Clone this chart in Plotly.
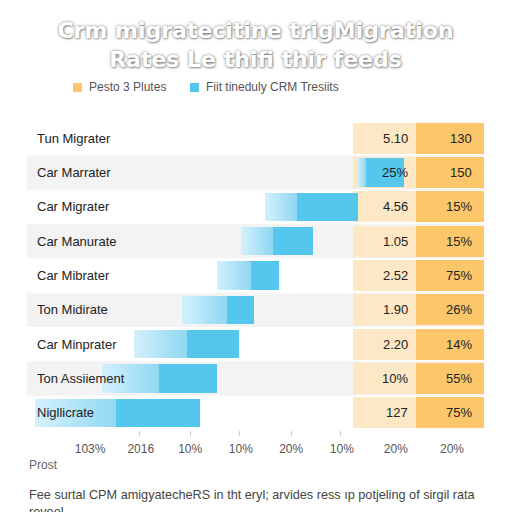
import plotly.graph_objects as go

# rows of the table, top to bottom
rows = ["Tun Migrater", "Car Marrater", "Car Migrater", "Car Manurate", "Car Mibrater",
        "Ton Midirate", "Car Minprater", "Ton Assiiement", "Nigllicrate"]
bar_start = [None, 72.4, 52.1, 47.0, 41.6, 34.1, 23.4, 16.4, 1.8]
bar_mid = [None, 74.2, 59.1, 53.8, 49.0, 43.8, 35.0, 28.9, 19.5]
bar_end = [None, 82.5, 72.4, 62.6, 55.1, 49.7, 46.4, 41.6, 37.9]
col_a = ["5.10", "25%", "4.56", "1.05", "2.52", "1.90", "2.20", "10%", "127"]
col_b = ["130", "150", "15%", "15%", "75%", "26%", "14%", "55%", "75%"]

tick_vals = [13.8, 24.9, 35.7, 46.8, 57.8, 68.9, 80.7, 93.0]
tick_text = ["103%", "2016", "10%", "10%", "20%", "10%", "20%", "20%"]
mark_vals = [24.7, 35.7, 46.6, 57.8, 68.7]

legend_names = ["Pesto 3 Plutes", "Fiit tineduly CRM Tresiits"]

ORANGE_LIGHT = "#fde8c5"
ORANGE_DARK = "#fcc76a"
BLUE = "#56c7ec"
GRAD_FROM = (210, 240, 252)
GRAD_TO = (146, 216, 243)
FONT = "Liberation Sans"

# plot area in pixels (512x512 page)
L, R, T, B = 27, 28, 121, 82
W = H = 512


def paper_x(px):
    return (px - L) / (W - L - R)


def paper_y(py):
    return (H - B - py) / (H - T - B)


ys = list(range(len(rows)))
fig = go.Figure()

# orange table columns
fig.add_trace(go.Bar(y=ys, x=[13.8] * len(rows), base=71.3, orientation="h", width=0.9,
                     marker=dict(color=ORANGE_LIGHT, line_width=0), showlegend=False, hoverinfo="skip"))
fig.add_trace(go.Bar(y=ys, x=[14.9] * len(rows), base=85.1, orientation="h", width=0.9,
                     marker=dict(color=ORANGE_DARK, line_width=0), showlegend=False, hoverinfo="skip"))

# light gradient part of each bar, built from small steps
steps = 24
for k in range(steps):
    t = k / (steps - 1)
    c = tuple(round(a + (b - a) * t) for a, b in zip(GRAD_FROM, GRAD_TO))
    xs, bs = [], []
    for s, m in zip(bar_start, bar_mid):
        if s is None:
            xs.append(None)
            bs.append(None)
        else:
            w = (m - s) / steps
            xs.append(w * 1.05)
            bs.append(s + k * w)
    fig.add_trace(go.Bar(y=ys, x=xs, base=bs, orientation="h", width=0.82,
                         marker=dict(color="rgb(%d,%d,%d)" % c, line_width=0),
                         showlegend=False, hoverinfo="skip"))

# solid part
fig.add_trace(go.Bar(y=ys,
                     x=[None if m is None else e - m for m, e in zip(bar_mid, bar_end)],
                     base=bar_mid, orientation="h", width=0.82,
                     marker=dict(color=BLUE, line_width=0), showlegend=False, hoverinfo="skip"))

shapes = []
for i in ys:
    if i % 2 == 1:
        shapes.append(dict(type="rect", xref="paper", yref="y", x0=0, x1=1, y0=i - 0.5, y1=i + 0.5,
                           fillcolor="#f3f3f3", line_width=0, layer="below"))

annotations = []
for i, name in enumerate(rows):
    annotations.append(dict(x=1.75, y=i, xref="x", yref="y", text=name, showarrow=False,
                            xanchor="left", yanchor="middle", font=dict(family=FONT, size=13, color="#222")))
    annotations.append(dict(x=83.8, y=i, xref="x", yref="y", text=col_a[i], showarrow=False,
                            xanchor="right", yanchor="middle", font=dict(family=FONT, size=13, color="#222")))
    annotations.append(dict(x=97.8, y=i, xref="x", yref="y", text=col_b[i], showarrow=False,
                            xanchor="right", yanchor="middle", font=dict(family=FONT, size=13, color="#222")))

# legend drawn by hand
for sx, color, name in [(73, ORANGE_DARK, legend_names[0]), (190, BLUE, legend_names[1])]:
    shapes.append(dict(type="rect", xref="paper", yref="paper", x0=paper_x(sx), x1=paper_x(sx + 9),
                       y0=paper_y(92), y1=paper_y(83), fillcolor=color, line_width=0))
    annotations.append(dict(x=paper_x(sx + 14), y=paper_y(87.5), xref="paper", yref="paper", text=name,
                            showarrow=False, xanchor="left", yanchor="middle",
                            font=dict(family=FONT, size=12, color="#555")))

annotations.append(dict(x=0, y=paper_y(465), xref="paper", yref="paper", text="Prost", showarrow=False,
                        xanchor="left", yanchor="middle", font=dict(family=FONT, size=12, color="#666")))
annotations.append(dict(x=0, y=paper_y(486), xref="paper", yref="paper",
                        text="Fee surtal CPM amigyatecheRS in tht eryl; arvides ress ıp potjeling of sirgil rata<br>reveel.",
                        showarrow=False, xanchor="left", yanchor="top", align="left",
                        font=dict(family=FONT, size=12.7, color="#444")))

fig.update_layout(
    width=W, height=H,
    margin=dict(l=L, r=R, t=T, b=B),
    paper_bgcolor="white", plot_bgcolor="white",
    barmode="overlay", bargap=0,
    title=dict(text="Crm migratecitine trigMigration<br>Rates Le thifi thir feeds",
               x=0.5, xref="paper", y=1 - 38 / H, yref="container", yanchor="top",
               font=dict(family="DejaVu Sans", size=22, color="white", weight="bold",
                         shadow="0px 0px 3px rgba(0,0,0,0.5), 1px 1px 2px rgba(0,0,0,0.3)")),
    xaxis=dict(range=[0, 100], showgrid=False, zeroline=False, showline=False, fixedrange=True,
               tickmode="array", tickvals=tick_vals, ticktext=tick_text, ticks="",
               ticklabelstandoff=10, tickfont=dict(family=FONT, size=12, color="#555"),
               minor=dict(tickmode="array", tickvals=mark_vals, ticks="outside", ticklen=5,
                          tickcolor="#d0d0d0", tickwidth=1)),
    yaxis=dict(range=[len(rows) - 0.5, -0.5], visible=False, fixedrange=True),
    shapes=shapes,
    annotations=annotations,
)

fig.write_html("out.html", config={"displayModeBar": False},
               post_script="document.body.style.margin = '0';")
